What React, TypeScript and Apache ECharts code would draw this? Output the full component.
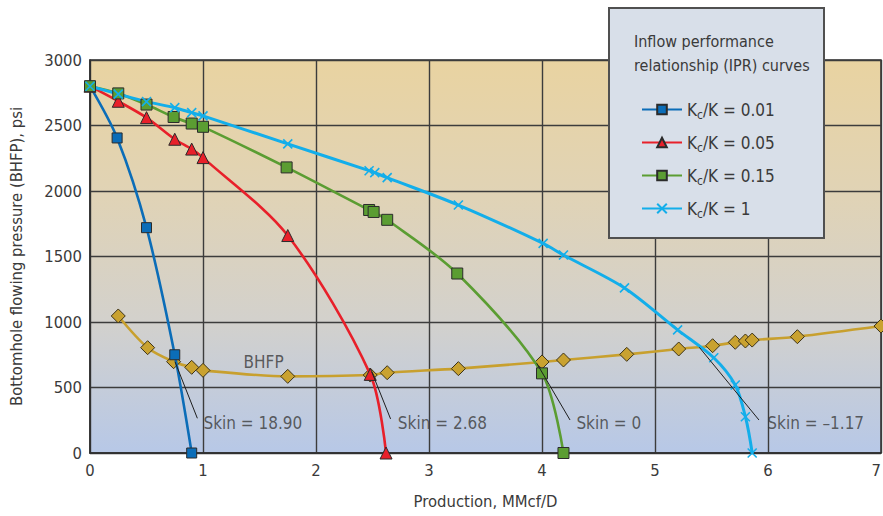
import React, { useEffect, useRef } from "react";
import * as echarts from "echarts";

// ---- Data ----
const xTicks = [0, 1, 2, 3, 4, 5, 6, 7];
const yTicks = [0, 500, 1000, 1500, 2000, 2500, 3000];

const seriesNames = ["Kc/K = 0.01", "Kc/K = 0.05", "Kc/K = 0.15", "Kc/K = 1"];

const kc001: number[][] = [
  [0, 2800], [0.24, 2405], [0.5, 1720], [0.75, 750], [0.9, 0],
];
const kc005: number[][] = [
  [0, 2800], [0.25, 2685], [0.5, 2560], [0.75, 2395], [0.9, 2320], [1.0, 2255],
  [1.75, 1660], [2.48, 600], [2.62, 0],
];
const kc015: number[][] = [
  [0, 2800], [0.25, 2745], [0.5, 2660], [0.74, 2565], [0.9, 2515], [1.0, 2490],
  [1.74, 2180], [2.47, 1855], [2.51, 1840], [2.63, 1780], [3.25, 1370], [4.0, 608], [4.19, 0],
];
const kc1: number[][] = [
  [0, 2800], [0.25, 2740], [0.5, 2682], [0.75, 2636], [0.9, 2598], [1.0, 2573],
  [1.75, 2360], [2.47, 2155], [2.52, 2140], [2.63, 2102], [3.26, 1893], [4.01, 1600],
  [4.19, 1511], [4.73, 1260], [5.2, 940], [5.52, 727], [5.71, 519], [5.8, 277], [5.86, 0],
];
const bhfp: number[][] = [
  [0.25, 1046], [0.51, 804], [0.74, 697], [0.9, 654], [1.0, 631], [1.75, 585],
  [2.48, 595], [2.63, 613], [3.26, 644], [4.0, 695], [4.19, 710], [4.75, 753],
  [5.21, 794], [5.51, 819], [5.71, 845], [5.8, 855], [5.86, 862], [6.26, 888], [7.0, 969],
];

const skinLabels = ["Skin = 18.90", "Skin = 2.68", "Skin = 0", "Skin = \u20131.17"];
const leaderStarts: number[][] = [[0.752, 697], [2.493, 620], [3.953, 685], [5.392, 807]];
const leaderEnds: number[][] = [[0.95, 265], [2.66, 260], [4.248, 252], [5.92, 252]];
const skinAnchors: number[][] = [[1.0, 231], [2.72, 231], [4.3, 231], [5.99, 231]];
const bhfpLabel = "BHFP";
const bhfpLabelAnchor = [1.355, 695];

const FONT = "'DejaVu Sans Condensed', 'DejaVu Sans', sans-serif";
const FS = 16.5;
const TXT = "#3a3a3a";

export default function App() {
  const ref = useRef<HTMLDivElement>(null);

  useEffect(() => {
    if (!ref.current) return;
    const chart = echarts.init(ref.current, undefined, { renderer: "svg" });

    const markerBorder = { borderColor: "#2b2b2b", borderWidth: 1 };

    const leaderSeries = leaderStarts.map((s, i) => ({
      type: "line",
      name: "leader" + i,
      data: [s, leaderEnds[i]],
      symbol: "none",
      silent: true,
      lineStyle: { color: "#1e1e1e", width: 1 },
      z: 6,
    }));

    const textSeries = (name: string, anchors: number[][], labels: string[]) => ({
      type: "scatter",
      name,
      silent: true,
      symbolSize: 1,
      itemStyle: { color: "rgba(0,0,0,0)" },
      data: anchors.map((p, i) => ({ value: p, label: { formatter: labels[i] } })),
      label: {
        show: true,
        position: "right",
        distance: 0,
        fontSize: FS + 0.5,
        color: TXT,
        fontFamily: FONT,
      },
      z: 7,
    });

    const option: any = {
      animation: false,
      textStyle: { fontFamily: FONT },
      grid: {
        left: 90,
        right: 2,
        top: 60,
        bottom: 63,
        outerBoundsMode: "none",
        containLabel: false,
        show: true,
        borderColor: "#2e2e2e",
        borderWidth: 1.5,
        backgroundColor: new echarts.graphic.LinearGradient(0, 0, 0, 1, [
          { offset: 0, color: "#e9d3a1" },
          { offset: 0.35, color: "#e0d3b6" },
          { offset: 0.66, color: "#d3d1cc" },
          { offset: 1, color: "#b7c8e7" },
        ]),
      },
      xAxis: {
        type: "value",
        min: xTicks[0],
        max: xTicks[xTicks.length - 1],
        interval: 1,
        name: "Production, MMcf/D",
        nameLocation: "middle",
        nameGap: 40,
        nameTextStyle: { fontSize: FS, color: TXT, fontFamily: FONT },
        axisLine: { show: true, lineStyle: { color: "#2e2e2e", width: 1.5 } },
        axisTick: { show: false },
        axisLabel: {
          fontSize: FS,
          color: TXT,
          margin: 9,
          fontFamily: FONT,
          alignMaxLabel: "right",
        },
        splitLine: { show: true, lineStyle: { color: "#3c3c3c", width: 1.4 } },
      },
      yAxis: {
        type: "value",
        min: yTicks[0],
        max: yTicks[yTicks.length - 1],
        interval: 500,
        name: "Bottomhole flowing pressure (BHFP), psi",
        nameLocation: "middle",
        nameRotate: 90,
        nameGap: 65,
        nameTextStyle: { fontSize: FS, color: TXT, fontFamily: FONT },
        axisLine: { show: true, lineStyle: { color: "#2e2e2e", width: 1.5 } },
        axisTick: { show: false },
        axisLabel: {
          fontSize: FS,
          color: TXT,
          margin: 8,
          fontFamily: FONT,
          formatter: (v: number) => String(v),
        },
        splitLine: { show: true, lineStyle: { color: "#3c3c3c", width: 1.4 } },
      },
      legend: {
        data: seriesNames,
        orient: "vertical",
        left: 636,
        top: 96,
        itemWidth: 40,
        itemHeight: 12,
        itemGap: 13.5,
        z: 20,
        formatter: (name: string) => `{n|K}{s|c}{n|${name.slice(2)}}`,
        textStyle: {
          color: TXT,
          fontFamily: FONT,
          rich: {
            n: { fontSize: FS + 0.5, lineHeight: 22, color: TXT, fontFamily: FONT },
            s: { fontSize: 12, lineHeight: 12, verticalAlign: "bottom", color: TXT, fontFamily: FONT },
          },
        },
      },
      graphic: [
        {
          type: "rect",
          z: 15,
          shape: { x: 609, y: 8, width: 215, height: 230 },
          style: { fill: "#d8dfe9", stroke: "#505050", lineWidth: 2 },
        },
        {
          type: "text",
          z: 16,
          x: 634,
          y: 29,
          style: {
            text: "Inflow performance\nrelationship (IPR) curves",
            fontSize: 16,
            lineHeight: 24,
            fontFamily: FONT,
            fill: TXT,
            verticalAlign: "top",
          },
        },
      ],
      series: [
        {
          type: "line",
          name: "BHFP",
          data: bhfp,
          smooth: 0.3,
          symbol: "diamond",
          symbolSize: 14,
          lineStyle: { color: "#c8a02e", width: 2.6 },
          itemStyle: { color: "#c9a230", borderColor: "#3d3318", borderWidth: 1 },
          z: 3,
        },
        {
          type: "line",
          name: seriesNames[0],
          data: kc001,
          smooth: 0.3,
          symbol: "rect",
          symbolSize: 10,
          lineStyle: { color: "#0b6db8", width: 2.6 },
          itemStyle: { color: "#0b6db8", ...markerBorder },
          z: 4,
        },
        {
          type: "line",
          name: seriesNames[1],
          data: kc005,
          smooth: 0.3,
          symbol: "triangle",
          symbolSize: 12,
          lineStyle: { color: "#e8202a", width: 2.6 },
          itemStyle: { color: "#e8202a", ...markerBorder },
          z: 4,
        },
        {
          type: "line",
          name: seriesNames[2],
          data: kc015,
          smooth: 0.3,
          symbol: "rect",
          symbolSize: 11,
          lineStyle: { color: "#5b9d32", width: 2.6 },
          itemStyle: { color: "#5b9d32", ...markerBorder },
          z: 4,
        },
        {
          type: "line",
          name: seriesNames[3],
          data: kc1,
          smooth: 0.3,
          symbol: "path://M0,0L10,10M0,10L10,0",
          symbolSize: 9,
          lineStyle: { color: "#13aeea", width: 3 },
          itemStyle: { color: "#13aeea", borderColor: "#13aeea", borderWidth: 1.6 },
          z: 4,
        },
        ...leaderSeries,
        textSeries("skinText", skinAnchors, skinLabels),
        textSeries("bhfpText", [bhfpLabelAnchor], [bhfpLabel]),
      ],
    };

    chart.setOption(option);
    return () => chart.dispose();
  }, []);

  return (
    <div
      ref={ref}
      style={{ position: "fixed", left: 0, top: 0, width: 883, height: 516, background: "#ffffff" }}
    />
  );
}
